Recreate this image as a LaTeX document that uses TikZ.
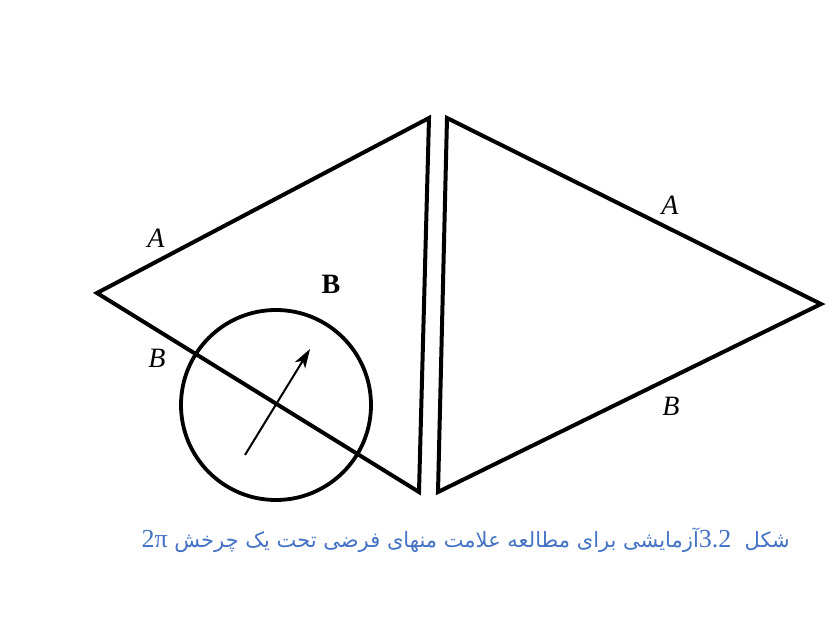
\documentclass[tikz,border=0pt]{standalone}
\usepackage{fontspec}
\usetikzlibrary{arrows.meta}
\setmainfont{Liberation Serif}
\newfontfamily\persianfont[Script=Arabic]{DejaVu Sans}
\TeXXeTstate=1
\definecolor{captionblue}{RGB}{68,114,196}
\tikzset{
  edge/.style={line width=4pt,line join=miter},
  side label/.style={font=\fontsize{28}{28}\selectfont\itshape,inner sep=0pt}
}
\begin{document}
\begin{tikzpicture}[x=1pt,y=-1pt,>=latex]
        \useasboundingbox (0,0) rectangle (829,644);

        % draw the left triangle
        \coordinate (la) at (97,293);
        \coordinate (lt) at (429,118);
        \coordinate (lb) at (419,492);
        \draw[edge] (la) -- (lt) -- (lb) -- cycle;

        % draw the right triangle
        \coordinate (rt) at (447,118);
        \coordinate (rb) at (438,492);
        \coordinate (ra) at (821,304);
        \draw[edge] (rt) -- (ra) -- (rb) -- cycle;

        % draw the circle with the arrow
        \draw[line width=3.8pt] (276,405) circle(95);
        \coordinate (tail) at (245,455);
        \coordinate (head) at (310,349);
        \draw[->,line width=2pt,>={Stealth[length=19pt,width=12pt,inset=5pt]}] (tail) -- (head);

        % labels
        \node[side label] (lA) at (156,238) {A};
        \node[side label] (lB) at (157,358) {B};
        \node[font=\fontsize{28}{28}\selectfont\bfseries,inner sep=0pt] (bigB) at (331,284) {B};
        \node[side label] (rA) at (670,205) {A};
        \node[side label] (rB) at (671,406) {B};

        % caption
        \node[anchor=east,text=captionblue,inner sep=0pt,font=\fontsize{21}{25}\selectfont] (cap) at (790,540)
          {\persianfont\beginR شکل \ \beginL{\rmfamily\fontsize{26}{26}\selectfont 3.2}\endL آزمایشی برای مطالعه علامت منهای فرضی تحت یک چرخش \beginL{\rmfamily\fontsize{26}{26}\selectfont 2π}\endL\endR};
\end{tikzpicture}
\end{document}
